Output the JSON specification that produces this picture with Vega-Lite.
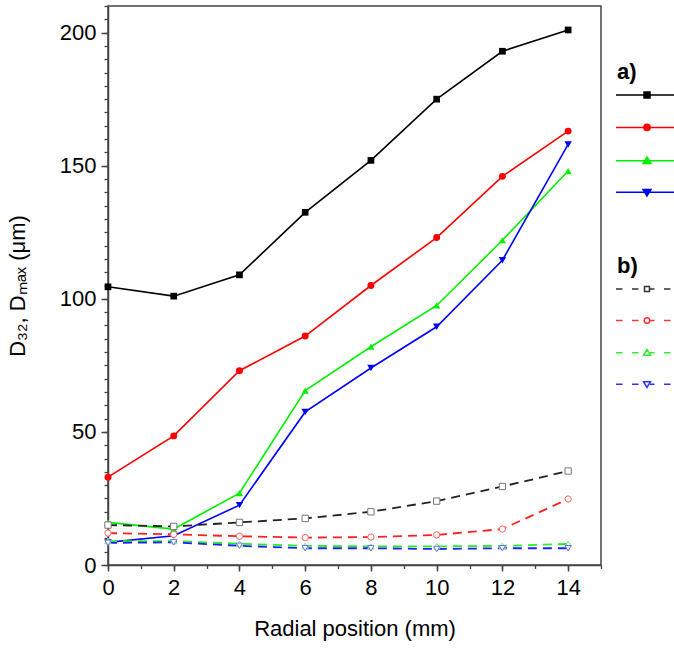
{
  "$schema": "https://vega.github.io/schema/vega-lite/v6.json",
  "autosize": {"type": "none"},
  "width": 493,
  "height": 559,
  "padding": {"left": 108, "top": 6, "right": 73, "bottom": 85},
  "background": "white",
  "config": {
    "view": {"stroke": "#444", "strokeWidth": 1.5},
    "font": "Liberation Sans",
    "axis": {
      "grid": false,
      "domainColor": "#444",
      "domainWidth": 1.5,
      "tickColor": "#444",
      "tickWidth": 1.5,
      "labelFont": "Liberation Sans",
      "labelFontSize": 22,
      "labelColor": "black",
      "labelFlush": false,
      "labelOverlap": false,
      "titleFont": "Liberation Sans",
      "titleFontSize": 22,
      "titleFontWeight": "normal",
      "titleColor": "black"
    },
    "legend": {
      "orient": "none",
      "padding": 0,
      "labelFontSize": 1,
      "titleFont": "Liberation Sans",
      "titleFontSize": 22,
      "titleFontWeight": "bold",
      "titleColor": "black",
      "symbolSize": 100,
      "symbolStrokeWidth": 1.5,
      "symbolOffset": 24,
      "rowPadding": 19.4,
      "titlePadding": 5
    }
  },
  "data": {
    "values": [
      {"r": 0, "v": 104.5, "s": "a1"}, {"r": 2, "v": 101, "s": "a1"}, {"r": 4, "v": 109, "s": "a1"}, {"r": 6, "v": 132.5, "s": "a1"},
      {"r": 8, "v": 152, "s": "a1"}, {"r": 10, "v": 175, "s": "a1"}, {"r": 12, "v": 193, "s": "a1"}, {"r": 14, "v": 201, "s": "a1"},
      {"r": 0, "v": 33, "s": "a2"}, {"r": 2, "v": 48.5, "s": "a2"}, {"r": 4, "v": 73, "s": "a2"}, {"r": 6, "v": 86, "s": "a2"},
      {"r": 8, "v": 105, "s": "a2"}, {"r": 10, "v": 123, "s": "a2"}, {"r": 12, "v": 146, "s": "a2"}, {"r": 14, "v": 163, "s": "a2"},
      {"r": 0, "v": 16, "s": "a3"}, {"r": 2, "v": 13.5, "s": "a3"}, {"r": 4, "v": 27, "s": "a3"}, {"r": 6, "v": 65.5, "s": "a3"},
      {"r": 8, "v": 82, "s": "a3"}, {"r": 10, "v": 97.5, "s": "a3"}, {"r": 12, "v": 122, "s": "a3"}, {"r": 14, "v": 148, "s": "a3"},
      {"r": 0, "v": 8.5, "s": "a4"}, {"r": 2, "v": 11, "s": "a4"}, {"r": 4, "v": 22.5, "s": "a4"}, {"r": 6, "v": 57.5, "s": "a4"},
      {"r": 8, "v": 74, "s": "a4"}, {"r": 10, "v": 89.5, "s": "a4"}, {"r": 12, "v": 114.5, "s": "a4"}, {"r": 14, "v": 158, "s": "a4"},
      {"r": 0, "v": 15, "s": "b1"}, {"r": 2, "v": 14.5, "s": "b1"}, {"r": 4, "v": 16, "s": "b1"}, {"r": 6, "v": 17.5, "s": "b1"},
      {"r": 8, "v": 20, "s": "b1"}, {"r": 10, "v": 24, "s": "b1"}, {"r": 12, "v": 29.5, "s": "b1"}, {"r": 14, "v": 35.3, "s": "b1"},
      {"r": 0, "v": 12, "s": "b2"}, {"r": 2, "v": 11.5, "s": "b2"}, {"r": 4, "v": 10.8, "s": "b2"}, {"r": 6, "v": 10.3, "s": "b2"},
      {"r": 8, "v": 10.5, "s": "b2"}, {"r": 10, "v": 11.3, "s": "b2"}, {"r": 12, "v": 13.5, "s": "b2"}, {"r": 14, "v": 24.8, "s": "b2"},
      {"r": 0, "v": 9, "s": "b3"}, {"r": 2, "v": 9, "s": "b3"}, {"r": 4, "v": 8, "s": "b3"}, {"r": 6, "v": 7.2, "s": "b3"},
      {"r": 8, "v": 7, "s": "b3"}, {"r": 10, "v": 7, "s": "b3"}, {"r": 12, "v": 7.2, "s": "b3"}, {"r": 14, "v": 7.9, "s": "b3"},
      {"r": 0, "v": 8.3, "s": "b4"}, {"r": 2, "v": 8.5, "s": "b4"}, {"r": 4, "v": 7.2, "s": "b4"}, {"r": 6, "v": 6.3, "s": "b4"},
      {"r": 8, "v": 6.3, "s": "b4"}, {"r": 10, "v": 6, "s": "b4"}, {"r": 12, "v": 6.3, "s": "b4"}, {"r": 14, "v": 6.3, "s": "b4"}
    ]
  },
  "encoding": {
    "x": {"field": "r", "type": "quantitative", "scale": {"domain": [0, 15], "nice": false, "zero": false}, "axis": null},
    "y": {"field": "v", "type": "quantitative", "scale": {"domain": [0, 210], "nice": false}, "axis": null}
  },
  "layer": [
    {
      "transform": [{"filter": "indexof(datum.s, 'a') === 0"}],
      "mark": {"type": "line", "strokeWidth": 1.6},
      "encoding": {
        "x": {
          "field": "r", "type": "quantitative",
          "scale": {"domain": [0, 15], "nice": false, "zero": false},
          "axis": {
            "orient": "bottom",
            "title": "Radial position (mm)",
            "values": [0,2,4,6,8,10,12,14],
            "tickSize": 6,
            "labelPadding": 6,
            "titlePadding": 20
          }
        },
        "y": {
          "field": "v", "type": "quantitative",
          "scale": {"domain": [0, 210], "nice": false},
          "axis": {
            "orient": "left",
            "title": "D₃₂, Dₘₐₓ (μm)",
            "values": [0,50,100,150,200],
            "tickSize": 7,
            "labelPadding": 5,
            "titlePadding": 30
          }
        },
        "color": {"field": "s", "type": "nominal", "scale": {"domain": ["a1","a2","a3","a4"], "range": ["#000000","#ff0000","#00f000","#0000ff"]}, "legend": null}
      }
    },
    {
      "transform": [{"filter": "indexof(datum.s, 'a') === 0"}],
      "mark": {"type": "point", "filled": true, "opacity": 1},
      "encoding": {
        "color": {"field": "s", "type": "nominal", "scale": {"domain": ["a1","a2","a3","a4"], "range": ["#000000","#ff0000","#00f000","#0000ff"]}, "legend": null},
        "shape": {"field": "s", "type": "nominal", "scale": {"domain": ["a1","a2","a3","a4"], "range": ["square","circle","triangle-up","triangle-down"]}, "legend": null},
        "size": {"field": "s", "type": "nominal", "scale": {"domain": ["a1","a2","a3","a4"], "range": [45, 55, 65, 65]}, "legend": null}
      }
    },
    {
      "transform": [{"filter": "indexof(datum.s, 'b') === 0"}],
      "mark": {"type": "line", "strokeWidth": 1.8, "strokeDash": [9, 6]},
      "encoding": {
        "color": {"field": "s", "type": "nominal", "scale": {"domain": ["b1","b2","b3","b4"], "range": ["#222222","#ff2020","#22ee22","#2020ff"]}, "legend": null}
      }
    },
    {
      "transform": [{"filter": "indexof(datum.s, 'b') === 0"}],
      "mark": {"type": "point", "filled": false, "opacity": 1, "strokeWidth": 1, "fill": "white"},
      "encoding": {
        "color": {"field": "s", "type": "nominal", "scale": {"domain": ["b1","b2","b3","b4"], "range": ["#777777","#ff6060","#70ee70","#7070ff"]}, "legend": null},
        "shape": {"field": "s", "type": "nominal", "scale": {"domain": ["b1","b2","b3","b4"], "range": ["square","circle","triangle-up","triangle-down"]}, "legend": null},
        "size": {"value": 40}
      }
    },
    {
      "transform": [{"filter": "false"}],
      "mark": {"type": "point", "filled": true, "opacity": 1, "size": 100, "strokeWidth": 1.5},
      "encoding": {
        "x": {
          "field": "r", "type": "quantitative",
          "scale": {"domain": [0, 15], "nice": false, "zero": false},
          "axis": {"orient": "bottom", "title": null, "labels": false, "domain": false, "tickSize": 3.5, "tickWidth": 1.3,
            "values": [0,1,2,3,4,5,6,7,8,9,10,11,12,13,14,15]}
        },
        "y": {
          "field": "v", "type": "quantitative",
          "scale": {"domain": [0, 210], "nice": false},
          "axis": {"orient": "left", "title": null, "labels": false, "domain": false, "tickSize": 4, "tickWidth": 1.3,
            "values": [0,5,10,15,20,25,30,35,40,45,50,55,60,65,70,75,80,85,90,95,100,105,110,115,120,125,130,135,140,145,150,155,160,165,170,175,180,185,190,195,200,205,210]}
        },
        "shape": {"field": "s", "type": "nominal",
          "scale": {"domain": ["a1","a2","a3","a4"], "range": [
            "M-6.2,0H6.2M-0.6,-0.6H0.6V0.6H-0.6Z",
            "M-6.2,0H6.2M0.62,0A0.62,0.62,0,1,1,-0.62,0A0.62,0.62,0,1,1,0.62,0Z",
            "M-6.2,0H6.2M0,-0.75L0.8,0.55L-0.8,0.55Z",
            "M-6.2,0H6.2M0,0.75L0.8,-0.55L-0.8,-0.55Z"
          ]},
          "legend": {"title": "a)", "legendX": 509, "legendY": 56, "labelExpr": "''"}},
        "fill": {"field": "s", "type": "nominal", "scale": {"domain": ["a1","a2","a3","a4"], "range": ["#000000","#ff0000","#00f000","#0000ff"]},
          "legend": {"title": "a)", "legendX": 509, "legendY": 56, "labelExpr": "''"}},
        "stroke": {"field": "s", "type": "nominal", "scale": {"domain": ["a1","a2","a3","a4"], "range": ["#000000","#ff0000","#00f000","#0000ff"]},
          "legend": {"title": "a)", "legendX": 509, "legendY": 56, "labelExpr": "''"}}
      }
    },
    {
      "transform": [{"filter": "false"}],
      "mark": {"type": "point", "filled": false, "opacity": 1, "size": 100, "strokeWidth": 1.5},
      "encoding": {
        "shape": {"field": "s", "type": "nominal",
          "scale": {"domain": ["b1","b2","b3","b4"], "range": [
            "M-6.2,0H-4.9M-3,0H-1.7M0.5,0H1.5M3.4,0H4.7M6.6,0H7.9M-0.5,-0.5H0.5V0.5H-0.5Z",
            "M-6.2,0H-4.9M-3,0H-1.7M0.55,0H1.5M3.4,0H4.7M6.6,0H7.9M0.55,0A0.55,0.55,0,1,1,-0.55,0A0.55,0.55,0,1,1,0.55,0Z",
            "M-6.2,0H-4.9M-3,0H-1.7M0.6,0H1.5M3.4,0H4.7M6.6,0H7.9M0,-0.65L0.7,0.5L-0.7,0.5Z",
            "M-6.2,0H-4.9M-3,0H-1.7M0.6,0H1.5M3.4,0H4.7M6.6,0H7.9M0,0.65L0.7,-0.5L-0.7,-0.5Z"
          ]},
          "legend": {"title": "b)", "legendX": 509, "legendY": 250, "labelExpr": "''"}},
        "stroke": {"field": "s", "type": "nominal", "scale": {"domain": ["b1","b2","b3","b4"], "range": ["#333333","#ff3030","#30ee30","#3030ff"]},
          "legend": {"title": "b)", "legendX": 509, "legendY": 250, "labelExpr": "''"}}
      }
    }
  ],
  "resolve": {
    "scale": {"color": "independent", "shape": "independent", "size": "independent", "fill": "independent", "stroke": "independent"},
    "axis": {"x": "independent", "y": "independent"}
  }
}
